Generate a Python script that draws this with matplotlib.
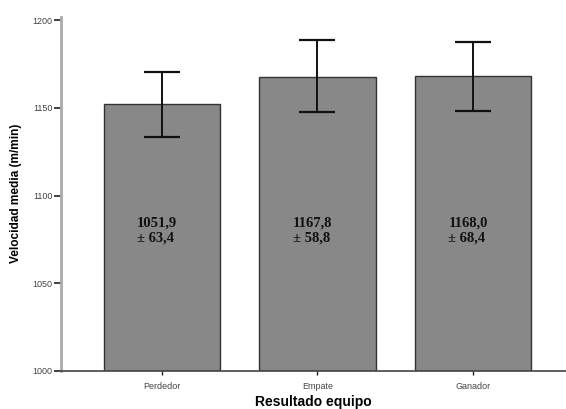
import matplotlib
matplotlib.use("Agg")
import matplotlib.pyplot as plt

categories = ["Perdedor", "Empate", "Ganador"]
means = [1152.0, 1167.8, 1168.0]
err_low = [1133.5, 1147.3, 1148.1]
err_high = [1170.5, 1188.4, 1187.7]
bar_labels = ["1051,9\n± 63,4", "1167,8\n± 58,8", "1168,0\n± 68,4"]
yticks = [1000, 1050, 1100, 1150, 1200]

fig = plt.figure(figsize=(5.66, 4.09), dpi=100)
ax = fig.add_axes([61/566, 38/409, 1 - 61/566, 354.5/409])

x = list(range(len(categories)))
ax.bar(x, [m - 1000 for m in means], bottom=1000, width=0.75,
       color="#888888", edgecolor="#333333", linewidth=1.0, zorder=2)
yerr = [[m - l for m, l in zip(means, err_low)], [h - m for m, h in zip(means, err_high)]]
ax.errorbar(x, means, yerr=yerr, fmt="none", ecolor="#111111", elinewidth=1.4,
            capsize=13, capthick=1.6, zorder=3)

for xi, lab in zip(x, bar_labels):
    ax.text(xi - 0.03, 1080, lab, ha="center", va="center", multialignment="left",
            fontfamily="Liberation Serif", fontweight="bold", fontsize=10.5, color="#111111", zorder=4)

ax.set_xlim(-0.65, 2.6)
ax.set_ylim(1000, 1202)
ax.set_yticks(yticks)
ax.set_yticklabels([str(t) for t in yticks], fontfamily="Liberation Sans", fontsize=6.5, color="#444444")
ax.set_xticks(x)
ax.set_xticklabels(categories, fontfamily="Liberation Sans", fontsize=6.5, color="#444444")
ax.tick_params(axis="y", length=5, width=1.2, color="#222222", pad=1)
ax.tick_params(axis="x", length=3, width=1.0, color="#222222", pad=5)

for s in ["top", "right"]:
    ax.spines[s].set_visible(False)
ax.spines["left"].set_color("#aaaaaa")
ax.spines["left"].set_linewidth(2)
ax.spines["bottom"].set_color("#444444")
ax.spines["bottom"].set_linewidth(1.2)

ax.set_ylabel("Velocidad media (m/min)", fontfamily="Liberation Sans", fontweight="bold", fontsize=8.6, labelpad=8)
ax.set_xlabel("Resultado equipo", fontfamily="Liberation Sans", fontweight="bold", fontsize=10, labelpad=3)

fig.savefig("out.png", dpi=100)
